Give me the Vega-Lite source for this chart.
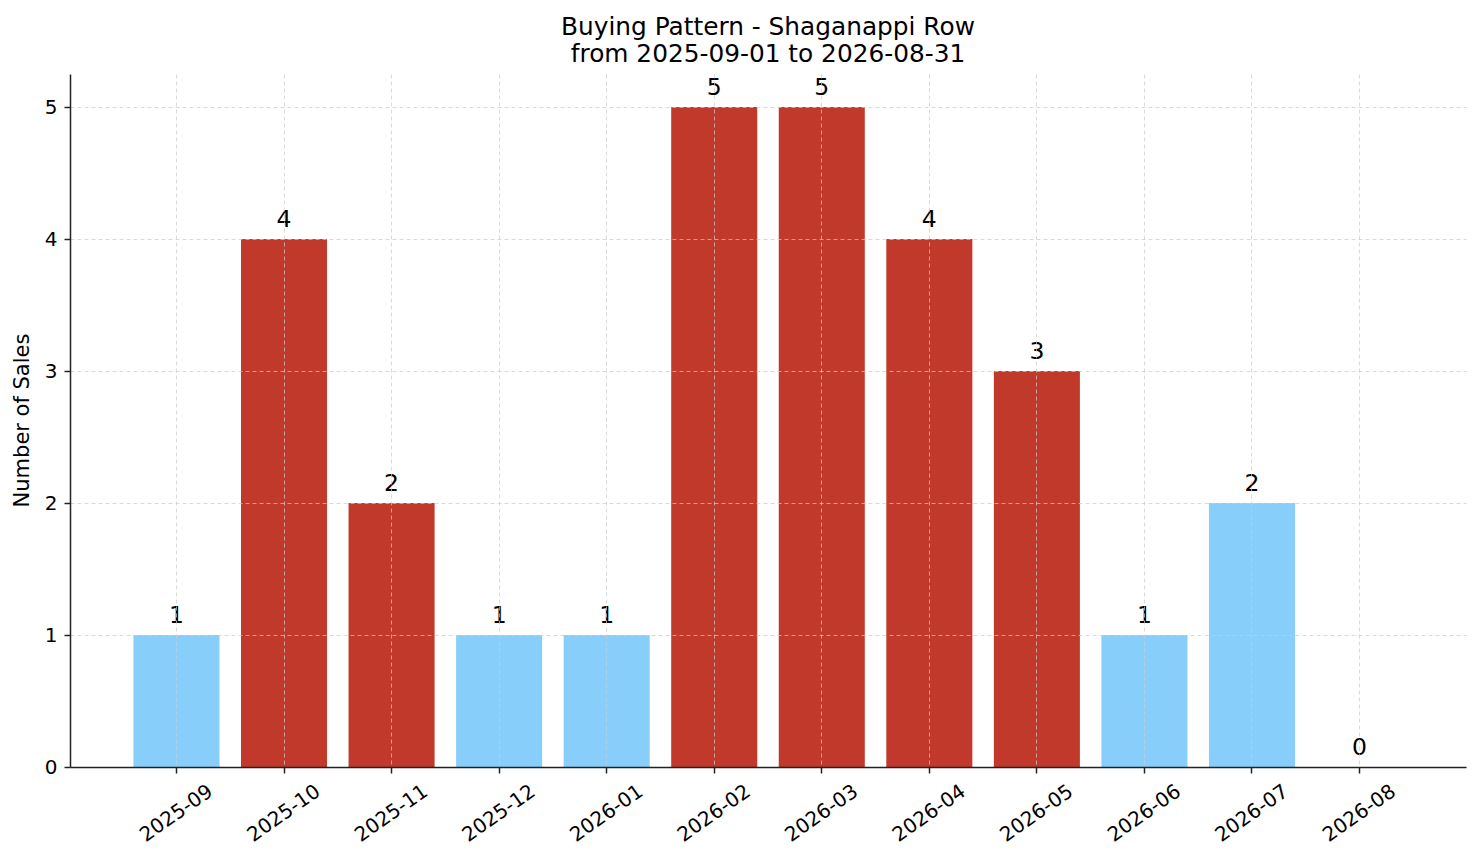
{
  "$schema": "https://vega.github.io/schema/vega-lite/v6.json",
  "width": 1396,
  "height": 693,
  "autosize": {"type": "none"},
  "padding": {"left": 70, "top": 74, "right": 15, "bottom": 96},
  "background": "white",
  "title": {
    "text": ["Buying Pattern - Shaganappi Row", "from 2025-09-01 to 2026-08-31"],
    "font": "DejaVu Sans",
    "fontSize": 24.8,
    "fontWeight": "normal",
    "color": "black",
    "lineHeight": 27,
    "offset": 7,
    "anchor": "middle"
  },
  "data": {
    "values": [
      {"month": "2025-09", "sales": 1, "period": "off"},
      {"month": "2025-10", "sales": 4, "period": "peak"},
      {"month": "2025-11", "sales": 2, "period": "peak"},
      {"month": "2025-12", "sales": 1, "period": "off"},
      {"month": "2026-01", "sales": 1, "period": "off"},
      {"month": "2026-02", "sales": 5, "period": "peak"},
      {"month": "2026-03", "sales": 5, "period": "peak"},
      {"month": "2026-04", "sales": 4, "period": "peak"},
      {"month": "2026-05", "sales": 3, "period": "peak"},
      {"month": "2026-06", "sales": 1, "period": "off"},
      {"month": "2026-07", "sales": 2, "period": "off"},
      {"month": "2026-08", "sales": 0, "period": "off"}
    ]
  },
  "encoding": {
    "x": {
      "field": "month",
      "type": "ordinal",
      "sort": null,
      "scale": {"paddingInner": 0.2, "paddingOuter": 0.59},
      "axis": {
        "title": null,
        "labelAngle": -35,
        "labelAlign": "center",
        "labelBaseline": "middle",
        "labelPadding": 40,
        "labelFontSize": 20,
        "grid": true,
        "zindex": 1
      }
    },
    "y": {
      "field": "sales",
      "type": "quantitative",
      "scale": {"domain": [0, 5.25], "nice": false},
      "axis": {
        "title": "Number of Sales",
        "values": [0, 1, 2, 3, 4, 5],
        "format": "d",
        "labelFontSize": 20,
        "labelPadding": 7,
        "titleFontSize": 21,
        "titleX": -48,
        "titleY": 346,
        "titleAngle": -90,
        "titleAlign": "center",
        "titleBaseline": "middle",
        "grid": true,
        "zindex": 1
      }
    }
  },
  "layer": [
    {
      "mark": {"type": "bar"},
      "encoding": {
        "color": {
          "field": "period",
          "type": "nominal",
          "scale": {"domain": ["peak", "off"], "range": ["#c0392b", "#87cefa"]},
          "legend": null
        }
      }
    },
    {
      "mark": {
        "type": "text",
        "baseline": "alphabetic",
        "dy": -12,
        "font": "DejaVu Sans",
        "fontSize": 23.5,
        "color": "black"
      },
      "encoding": {"text": {"field": "sales", "type": "quantitative"}}
    }
  ],
  "config": {
    "view": {"stroke": null},
    "font": "DejaVu Sans",
    "axis": {
      "labelFont": "DejaVu Sans",
      "titleFont": "DejaVu Sans",
      "labelColor": "black",
      "titleColor": "black",
      "titleFontWeight": "normal",
      "domainColor": "#222222",
      "domainWidth": 1.5,
      "tickColor": "#222222",
      "tickWidth": 1.5,
      "tickSize": 6,
      "gridColor": "#cccccc",
      "gridDash": [4, 3],
      "gridWidth": 0.8,
      "gridOpacity": 0.9
    }
  }
}
